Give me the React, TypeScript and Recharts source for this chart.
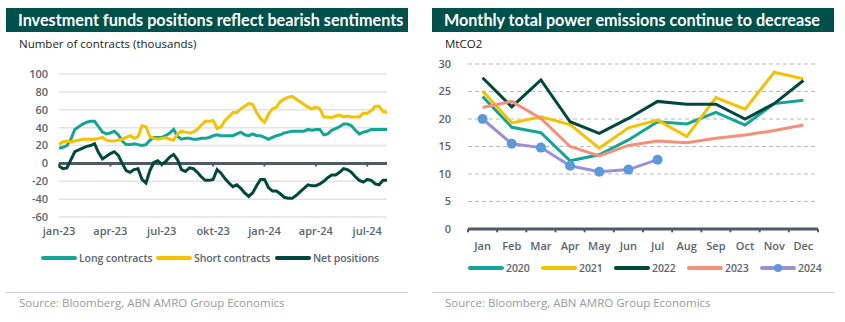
import React from "react";
import {
  LineChart,
  Line,
  XAxis,
  YAxis,
  CartesianGrid,
  ReferenceLine,
} from "recharts";

// Left panel: weekly positions, jan-23 .. aug-24 (thousands of contracts)
const quarterTicks = [0, 13, 26, 39, 52, 65, 78];
const quarterLabels = ["jan-23", "apr-23", "jul-23", "okt-23", "jan-24", "apr-24", "jul-24"];

const longContracts = [
  17, 18, 20, 27, 38, 41, 44, 46, 47, 47,
  41, 35, 33, 34, 36, 32, 25, 21, 21, 22,
  21, 20, 21, 26, 29, 29, 29, 31, 34, 38,
  30, 27, 28, 28, 27, 27, 28, 28, 29, 31,
  32, 31, 31, 31, 31, 33, 35, 32, 31, 33,
  31, 31, 29, 27, 29, 31, 32, 34, 35, 36,
  36, 36, 36, 38, 37, 38, 38, 32, 33, 37,
  39, 41, 44, 44, 42, 37, 33, 35, 36, 38,
  38, 38, 38, 38,
];

const shortContracts = [
  21, 24, 25, 24, 25, 26, 27, 27, 27, 27,
  28, 29, 26, 25, 25, 26, 27, 29, 31, 28,
  30, 42, 41, 30, 28, 27, 28, 29, 27, 26,
  33, 36, 35, 34, 35, 38, 43, 47, 47, 48,
  39, 41, 48, 52, 57, 57, 61, 64, 67, 66,
  57, 50, 46, 55, 61, 63, 69, 72, 74, 75,
  72, 69, 66, 63, 61, 63, 61, 52, 52, 51,
  53, 54, 52, 53, 52, 52, 52, 56, 56, 59,
  64, 64, 58, 57,
];

const netPositions = [
  -3, -6, -5, 4, 13, 15, 17, 19, 20, 22,
  12, 5, 8, 11, 13, 9, 0, -8, -10, -7,
  -6, -18, -22, -8, 1, 3, -1, 2, 7, 10,
  4, -7, -9, -5, -6, -10, -15, -19, -19, -18,
  -7, -11, -17, -22, -26, -24, -28, -33, -37, -33,
  -25, -18, -18, -27, -31, -31, -34, -38, -39, -39,
  -36, -32, -28, -24, -25, -25, -23, -20, -16, -13,
  -13, -10, -6, -7, -10, -15, -19, -21, -18, -19,
  -23, -24, -19, -19,
];

const leftTicksY = [-60, -40, -20, 0, 20, 40, 60, 80, 100];

// Right panel: monthly power emissions (MtCO2)
const months = ["Jan", "Feb", "Mar", "Apr", "May", "Jun", "Jul", "Aug", "Sep", "Oct", "Nov", "Dec"];
const y2020 = [24.1, 18.5, 17.5, 12.4, 13.5, 16.2, 19.5, 19.1, 21.2, 18.9, 22.8, 23.4];
const y2021 = [25.1, 19.3, 20.4, 19.0, 14.7, 18.4, 19.8, 16.8, 23.9, 21.8, 28.5, 27.3];
const y2022 = [27.5, 22.2, 27.1, 19.5, 17.4, 20.1, 23.2, 22.7, 22.7, 20.0, 22.8, 27.0];
const y2023 = [22.1, 23.2, 20.1, 15.0, 13.3, 15.2, 16.0, 15.7, 16.5, 17.1, 17.9, 18.9];
const y2024 = [20.0, 15.5, 14.8, 11.5, 10.4, 10.8, 12.6];
const rightTicksY = [0, 5, 10, 15, 20, 25, 30];
const monthBounds = [-0.5, 0.5, 1.5, 2.5, 3.5, 4.5, 5.5, 6.5, 7.5, 8.5, 9.5, 10.5, 11.5];

const C = {
  band: "#00504b",
  teal: "#14a596",
  yellow: "#f6c100",
  dark: "#00473f",
  salmon: "#f48f7b",
  purple: "#9b8fd6",
  dot: "#5b9ad9",
  axis: "#4f5b64",
  tick: "#5a646d",
  grid: "#e3e3e3",
};

const FONT = "'Open Sans', sans-serif";

const weekly = longContracts.map((v, i) => ({
  w: i,
  long: v,
  short: shortContracts[i],
  net: netPositions[i],
}));

const monthly = months.map((m, i) => ({
  idx: i,
  m,
  y2020: y2020[i],
  y2021: y2021[i],
  y2022: y2022[i],
  y2023: y2023[i],
  y2024: y2024[i],
}));

const tickStyle = { fill: C.tick, fontSize: 11, fontWeight: 600, fontFamily: FONT };

function TitleBar({ left, text }: { left: number; text: string }) {
  return (
    <div
      style={{
        position: "absolute",
        left,
        top: 8,
        width: 402,
        height: 24,
        background: C.band,
        color: "#fff",
        fontFamily: "Lato, sans-serif",
        fontWeight: 700,
        fontSize: 16.2,
        lineHeight: "24px",
        paddingLeft: 12,
        boxSizing: "border-box",
        whiteSpace: "nowrap",
      }}
    >
      {text}
    </div>
  );
}

function LegendItem({ left, color, label, dot }: { left: number; color: string; label: string; dot?: boolean }) {
  return (
    <div style={{ position: "absolute", left, top: 0, display: "flex", alignItems: "center", whiteSpace: "nowrap" }}>
      <svg width={36} height={10} style={{ marginRight: 2 }}>
        <line x1={2} y1={5} x2={34} y2={5} stroke={color} strokeWidth={4} strokeLinecap="round" />
        {dot && <circle cx={18} cy={5} r={4} fill={C.dot} />}
      </svg>
      <span style={{ fontSize: 10.5, fontWeight: 600, color: C.tick, letterSpacing: -0.1 }}>{label}</span>
    </div>
  );
}

function Footer({ left, lineLeft }: { left: number; lineLeft: number }) {
  return (
    <>
      <div style={{ position: "absolute", left: lineLeft, top: 292, width: 402, height: 1, background: "#cfcfcf" }} />
      <div style={{ position: "absolute", left, top: 295, fontSize: 11.5, color: "#9a9a9a", whiteSpace: "nowrap" }}>
        Source: Bloomberg, ABN AMRO Group Economics
      </div>
    </>
  );
}

export default function App() {
  return (
    <div
      style={{
        position: "absolute",
        left: 0,
        top: 0,
        width: 845,
        height: 322,
        background: "#fff",
        fontFamily: FONT,
        overflow: "hidden",
      }}
    >
      {/* left panel */}
      <TitleBar left={6} text="Investment funds positions reflect bearish sentiments" />
      <div style={{ position: "absolute", left: 19, top: 36, fontSize: 11.5, color: "#222" }}>
        Number of contracts (thousands)
      </div>
      <div style={{ position: "absolute", left: 0, top: 60 }}>
        <LineChart width={400} height={190} data={weekly} margin={{ top: 14, right: 13, left: 14, bottom: 8 }}>
          <CartesianGrid vertical={false} stroke={C.grid} strokeWidth={1.5} />
          <XAxis
            dataKey="w"
            type="number"
            domain={[0, 83]}
            ticks={quarterTicks}
            tickFormatter={(v: number) => quarterLabels[quarterTicks.indexOf(v)]}
            axisLine={false}
            tickLine={false}
            tickSize={0}
            tickMargin={10}
            height={25}
            tick={tickStyle}
            interval={0}
          />
          <YAxis
            domain={[-60, 100]}
            ticks={leftTicksY}
            axisLine={false}
            tickLine={false}
            tickSize={0}
            tickMargin={11}
            width={45}
            tick={tickStyle}
            interval={0}
          />
          <ReferenceLine y={0} stroke={C.axis} strokeWidth={3} />
          {quarterTicks.map((t) => (
            <ReferenceLine
              key={t}
              segment={[{ x: t, y: 0 }, { x: t, y: -3.5 }]}
              stroke={C.axis}
              strokeWidth={2}
            />
          ))}
          <Line dataKey="long" stroke={C.teal} strokeWidth={3} dot={false} isAnimationActive={false} />
          <Line dataKey="short" stroke={C.yellow} strokeWidth={3} dot={false} isAnimationActive={false} />
          <Line dataKey="net" stroke={C.dark} strokeWidth={3} dot={false} isAnimationActive={false} />
        </LineChart>
      </div>
      <div style={{ position: "absolute", left: 0, top: 251, width: 420, height: 14 }}>
        <LegendItem left={41} color={C.teal} label="Long contracts" />
        <LegendItem left={156} color={C.yellow} label="Short contracts" />
        <LegendItem left={275} color={C.dark} label="Net positions" />
      </div>
      <Footer left={19} lineLeft={6} />

      {/* right panel */}
      <TitleBar left={432} text="Monthly total power emissions continue to decrease" />
      <div style={{ position: "absolute", left: 445, top: 36, fontSize: 11.5, color: "#222" }}>MtCO2</div>
      <div style={{ position: "absolute", left: 425, top: 50 }}>
        <LineChart width={410} height={210} data={monthly} margin={{ top: 14, right: 17, left: 8, bottom: 6 }}>
          <CartesianGrid vertical={false} stroke="#b9b9b9" strokeDasharray="4 3" />
          <XAxis
            dataKey="idx"
            type="number"
            domain={[-0.5, 11.5]}
            ticks={months.map((_, i) => i)}
            tickFormatter={(v: number) => months[v]}
            axisLine={{ stroke: C.axis, strokeWidth: 3 }}
            tickLine={false}
            tickSize={0}
            tickMargin={13}
            height={25}
            tick={tickStyle}
            interval={0}
          />
          <YAxis
            domain={[0, 30]}
            ticks={rightTicksY}
            axisLine={false}
            tickLine={false}
            tickSize={0}
            tickMargin={17}
            width={35}
            tick={tickStyle}
            interval={0}
          />
          {monthBounds.map((b) => (
            <ReferenceLine
              key={b}
              segment={[{ x: b, y: 0 }, { x: b, y: -0.6 }]}
              stroke={C.axis}
              strokeWidth={2}
              ifOverflow="visible"
            />
          ))}
          <Line dataKey="y2020" stroke={C.teal} strokeWidth={3} dot={false} isAnimationActive={false} />
          <Line dataKey="y2021" stroke={C.yellow} strokeWidth={3} dot={false} isAnimationActive={false} />
          <Line dataKey="y2022" stroke={C.dark} strokeWidth={3} dot={false} isAnimationActive={false} />
          <Line dataKey="y2023" stroke={C.salmon} strokeWidth={3} dot={false} isAnimationActive={false} />
          <Line
            dataKey="y2024"
            stroke={C.purple}
            strokeWidth={3}
            dot={{ r: 5, fill: C.dot, stroke: "none" }}
            isAnimationActive={false}
          />
        </LineChart>
      </div>
      <div style={{ position: "absolute", left: 425, top: 261, width: 420, height: 14 }}>
        <LegendItem left={43} color={C.teal} label="2020" />
        <LegendItem left={116} color={C.yellow} label="2021" />
        <LegendItem left={189} color={C.dark} label="2022" />
        <LegendItem left={262} color={C.salmon} label="2023" />
        <LegendItem left={335} color={C.purple} label="2024" dot />
      </div>
      <Footer left={445} lineLeft={432} />
    </div>
  );
}
